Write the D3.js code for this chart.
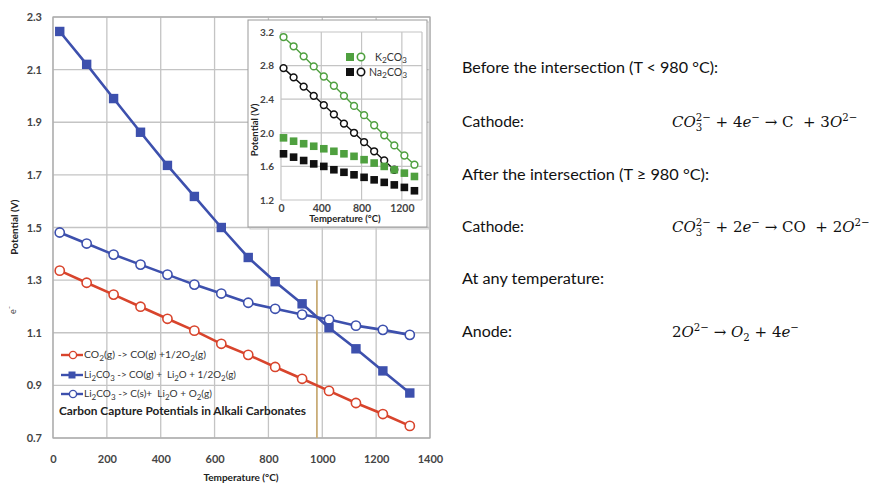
<!DOCTYPE html>
<html><head><meta charset="utf-8">
<script src="https://cdn.jsdelivr.net/npm/d3@7"></script>
<style>body{margin:0;background:#fff} text{white-space:pre}</style>
</head><body>
<svg id="c" width="869" height="484"></svg>
<script>
// ---------- data ----------
const temps = [25,125,225,325,425,525,625,725,825,925,1025,1125,1225,1325];
const co2ToCO     = [1.336,1.290,1.245,1.199,1.153,1.108,1.058,1.016,0.970,0.925,0.879,0.833,0.791,0.746];
const li2co3ToCO  = [2.245,2.120,1.990,1.862,1.736,1.618,1.500,1.386,1.294,1.210,1.119,1.039,0.955,0.871];
const li2co3ToC   = [1.481,1.439,1.397,1.359,1.321,1.283,1.249,1.214,1.191,1.169,1.150,1.127,1.111,1.092];
const intersectionT = 980;
const yTicks = [0.7,0.9,1.1,1.3,1.5,1.7,1.9,2.1,2.3];
const xTicks = [0,200,400,600,800,1000,1200,1400];

const insetTemps   = [25,125,225,325,425,525,625,725,825,925,1025,1125,1225,1325];
const k2co3Open    = [3.14,3.03,2.91,2.79,2.67,2.56,2.44,2.32,2.21,2.09,1.97,1.85,1.73,1.62];
const na2co3Open   = [2.77,2.66,2.55,2.44,2.33,2.22,2.11,2.00,1.89,1.78,1.67,1.56];
const k2co3Filled  = [1.94,1.90,1.87,1.84,1.81,1.78,1.75,1.72,1.68,1.64,1.60,1.56,1.52,1.48];
const na2co3Filled = [1.75,1.71,1.67,1.63,1.60,1.56,1.53,1.50,1.47,1.44,1.41,1.38,1.35,1.31];
const insetYTicks = [1.2,1.6,2.0,2.4,2.8,3.2];
const insetXTicks = [0,400,800,1200];

const BLUE="#3d50ad", RED="#d8442c", GREEN="#4fa03f", BLACK="#111", GRID="#c4c4c4";

const svg = d3.select("#c");
const F = "Lato, 'Open Sans', sans-serif";

// ---------- main chart ----------
const x = d3.scaleLinear().domain([0,1400]).range([53,430]);
const y = d3.scaleLinear().domain([0.7,2.3]).range([438,17]);
const g = svg.append("g");

g.selectAll(".hg").data(yTicks).join("line")
  .attr("x1",x(0)).attr("x2",x(1400)).attr("y1",d=>y(d)).attr("y2",d=>y(d))
  .attr("stroke",GRID).attr("stroke-width",1.3);
g.selectAll(".vg").data(xTicks).join("line")
  .attr("y1",y(0.7)).attr("y2",y(2.3)).attr("x1",d=>x(d)).attr("x2",d=>x(d))
  .attr("stroke",GRID).attr("stroke-width",1.3);
g.append("rect").attr("x",x(0)).attr("y",y(2.3)).attr("width",x(1400)-x(0)).attr("height",y(0.7)-y(2.3))
  .attr("fill","none").attr("stroke","#aaa").attr("stroke-width",1.2);

const ya = g.append("g").attr("transform",`translate(${x(0)-8},0)`)
  .call(d3.axisLeft(y).tickValues(yTicks).tickFormat(d3.format(".1f")).tickSize(0));
ya.select(".domain").remove();
ya.selectAll("text").attr("font-family",F).attr("font-size",11).attr("font-weight","bold").attr("fill","#444");
const xa = g.append("g").attr("transform",`translate(0,${y(0.7)+14})`)
  .call(d3.axisBottom(x).tickValues(xTicks).tickFormat(d3.format("d")).tickSize(0));
xa.select(".domain").remove();
xa.selectAll("text").attr("font-family",F).attr("font-size",11).attr("font-weight","bold").attr("fill","#444");

g.append("text").attr("x",241).attr("y",481).attr("text-anchor","middle")
  .attr("font-family",F).attr("font-size",10).attr("font-weight","bold").attr("fill","#222").text("Temperature (°C)");
g.append("text").attr("transform","translate(18,227) rotate(-90)").attr("text-anchor","middle")
  .attr("font-family",F).attr("font-size",10).attr("font-weight","bold").attr("fill","#222").text("Potential (V)");
g.append("text").attr("transform","translate(16,310) rotate(-90)").attr("text-anchor","middle")
  .attr("font-family",F).attr("font-size",9).attr("fill","#444").text("e⁻");

// intersection line
g.append("line").attr("x1",x(intersectionT)).attr("x2",x(intersectionT)).attr("y1",y(1.3)).attr("y2",y(0.7))
  .attr("stroke","#c9ad78").attr("stroke-width",1.8);

const line = d3.line().x(d=>x(d[0])).y(d=>y(d[1]));
function series(vals, color, marker){
  const pts = temps.map((t,i)=>[t,vals[i]]);
  g.append("path").attr("d",line(pts)).attr("fill","none").attr("stroke",color).attr("stroke-width",2.6);
  if(marker==="sq"){
    g.selectAll(null).data(pts).join("rect").attr("x",d=>x(d[0])-4.7).attr("y",d=>y(d[1])-4.7)
      .attr("width",9.4).attr("height",9.4).attr("fill",color);
  } else {
    g.selectAll(null).data(pts).join("circle").attr("cx",d=>x(d[0])).attr("cy",d=>y(d[1])).attr("r",4.6)
      .attr("fill","#fff").attr("stroke",color).attr("stroke-width",1.6);
  }
}
series(co2ToCO,RED,"c");
series(li2co3ToC,BLUE,"c");
series(li2co3ToCO,BLUE,"sq");

// chemical formula with subscripts; arrays mark subscript pieces
function chem(sel, parts){
  let shift = 0;
  parts.forEach(p=>{
    if(Array.isArray(p)){
      sel.append("tspan").attr("dy",2.5-shift).attr("font-size","0.8em").text(p[0]);
      shift = 2.5;
    } else {
      sel.append("tspan").attr("dy",-shift).text(p);
      shift = 0;
    }
  });
}
const legend = [
  {c:RED, m:"c", parts:["CO",["2"],"(g) -> CO(g) +1/2O",["2"],"(g)"], w:122, y:355},
  {c:BLUE, m:"sq", parts:["Li",["2"],"CO",["3"]," -> CO(g) +  Li",["2"],"O + 1/2O",["2"],"(g)"], w:152, y:375},
  {c:BLUE, m:"c", parts:["Li",["2"],"CO",["3"]," -> C(s)+  Li",["2"],"O + O",["2"],"(g)"], w:128, y:394}
];
legend.forEach(L=>{
  g.append("line").attr("x1",61).attr("x2",83).attr("y1",L.y).attr("y2",L.y).attr("stroke",L.c).attr("stroke-width",2.4);
  if(L.m==="sq") g.append("rect").attr("x",72-3.5).attr("y",L.y-3.5).attr("width",7).attr("height",7).attr("fill",L.c);
  else g.append("circle").attr("cx",73).attr("cy",L.y).attr("r",3.6).attr("fill","#fff").attr("stroke",L.c).attr("stroke-width",1.4);
  const t = g.append("text").attr("x",84).attr("y",L.y+3.3).attr("font-family",F).attr("font-size",9.5).attr("fill","#333")
    .attr("textLength",L.w).attr("lengthAdjust","spacingAndGlyphs");
  chem(t,L.parts);
});
g.append("text").attr("x",59).attr("y",415).attr("font-family",F).attr("font-size",11.5).attr("font-weight","bold").attr("fill","#222")
  .attr("textLength",247).attr("lengthAdjust","spacingAndGlyphs").text("Carbon Capture Potentials in Alkali Carbonates");

// ---------- inset ----------
const ix = d3.scaleLinear().domain([0,1400]).range([281,422]);
const iy = d3.scaleLinear().domain([1.2,3.2]).range([200,32]);
const ig = svg.append("g");
ig.append("rect").attr("x",250).attr("y",22).attr("width",179).attr("height",207).attr("fill","none").attr("stroke","#ccc").attr("stroke-width",1);
ig.append("rect").attr("x",248).attr("y",20).attr("width",179).attr("height",207).attr("fill","#fff").attr("stroke","#999").attr("stroke-width",1);
ig.selectAll(null).data(insetYTicks).join("line").attr("x1",ix(0)).attr("x2",ix(1400)).attr("y1",d=>iy(d)).attr("y2",d=>iy(d))
  .attr("stroke",GRID).attr("stroke-width",1.2);
ig.selectAll(null).data(insetXTicks.concat([1400])).join("line").attr("y1",iy(1.2)).attr("y2",iy(3.2)).attr("x1",d=>ix(d)).attr("x2",d=>ix(d))
  .attr("stroke",GRID).attr("stroke-width",1.2);
const iya = ig.append("g").attr("transform",`translate(${ix(0)-4},0)`)
  .call(d3.axisLeft(iy).tickValues(insetYTicks).tickFormat(d3.format(".1f")).tickSize(0));
iya.select(".domain").remove();
iya.selectAll("text").attr("font-family",F).attr("font-size",10).attr("font-weight","bold").attr("fill","#444");
const ixa = ig.append("g").attr("transform",`translate(0,${iy(1.2)+2})`)
  .call(d3.axisBottom(ix).tickValues(insetXTicks).tickFormat(d3.format("d")).tickSize(0));
ixa.select(".domain").remove();
ixa.selectAll("text").attr("font-family",F).attr("font-size",10.5).attr("font-weight","bold").attr("fill","#444");
ig.append("text").attr("x",345).attr("y",222).attr("text-anchor","middle").attr("font-family",F).attr("font-size",9.5)
  .attr("font-weight","bold").attr("fill","#222").text("Temperature (°C)");
ig.append("text").attr("transform","translate(258,130) rotate(-90)").attr("text-anchor","middle").attr("font-family",F)
  .attr("font-size",9.5).attr("font-weight","bold").attr("fill","#222").text("Potential (V)");

const il = d3.line().x(d=>ix(d[0])).y(d=>iy(d[1]));
function iSquares(vals,color){
  ig.selectAll(null).data(vals.map((v,i)=>[insetTemps[i],v])).join("rect")
    .attr("x",d=>ix(d[0])-3.8).attr("y",d=>iy(d[1])-3.8).attr("width",7.6).attr("height",7.6).attr("fill",color);
}
function iCircles(vals,color){
  const pts = vals.map((v,i)=>[insetTemps[i],v]);
  ig.append("path").attr("d",il(pts)).attr("fill","none").attr("stroke",color).attr("stroke-width",1.4);
  ig.selectAll(null).data(pts).join("circle").attr("cx",d=>ix(d[0])).attr("cy",d=>iy(d[1])).attr("r",3.4)
    .attr("fill","#fff").attr("stroke",color).attr("stroke-width",1.5);
}
iCircles(na2co3Open,BLACK);
iCircles(k2co3Open,GREEN);
iSquares(na2co3Filled,BLACK);
iSquares(k2co3Filled,GREEN);

[{c:GREEN,lab:["K",["2"],"CO",["3"]],y:57},{c:BLACK,lab:["Na",["2"],"CO",["3"]],y:72}].forEach(L=>{
  ig.append("rect").attr("x",346).attr("y",L.y-4).attr("width",8).attr("height",8).attr("fill",L.c);
  ig.append("circle").attr("cx",361).attr("cy",L.y).attr("r",3.7).attr("fill","#fff").attr("stroke",L.c).attr("stroke-width",1.6);
  const t = ig.append("text").attr("x",L.c===GREEN?375:369).attr("y",L.y+3.5).attr("font-family",F).attr("font-size",10.5).attr("fill","#333");
  chem(t,L.lab);
});

// ---------- right text ----------
const rt = svg.append("g").attr("font-family","Lato, 'Open Sans', sans-serif").attr("font-size",15.5).attr("fill","#111");
const lines = [
  {t:"Before the intersection (T < 980 °C):", y:73, w:256},
  {t:"Cathode:", y:127, w:62},
  {t:"After the intersection (T ≥ 980 °C):", y:180, w:247},
  {t:"Cathode:", y:232, w:62},
  {t:"At any temperature:", y:284, w:142},
  {t:"Anode:", y:337, w:50}
];
lines.forEach(L=>rt.append("text").attr("x",462).attr("y",L.y).attr("textLength",L.w).attr("lengthAdjust","spacingAndGlyphs").text(L.t));

const eg = svg.append("g").attr("font-family","'DejaVu Serif', serif").attr("fill","#111");
function eq(x0, yb, parts, size){
  let cx = x0;
  parts.forEach(p=>{
    if(p.s!==undefined || p.b!==undefined){
      let w=0;
      if(p.s){ const t=eg.append("text").attr("x",cx).attr("y",yb-6.5).attr("font-size",size*0.68).text(p.s); w=Math.max(w,t.node().getComputedTextLength()); }
      if(p.b){ const t=eg.append("text").attr("x",cx).attr("y",yb+4).attr("font-size",size*0.68).text(p.b); w=Math.max(w,t.node().getComputedTextLength()); }
      cx += w;
    } else {
      const t = eg.append("text").attr("x",cx).attr("y",yb).attr("font-size",size).attr("font-style",p.i?"italic":"normal").text(p.t);
      cx += t.node().getComputedTextLength();
    }
  });
}
eq(672,127,[{t:"CO",i:1},{s:"2−",b:"3"},{t:" + 4"},{t:"e",i:1},{s:"−"},{t:" → C  + 3"},{t:"O",i:1},{s:"2−"}],15);
eq(672,232,[{t:"CO",i:1},{s:"2−",b:"3"},{t:" + 2"},{t:"e",i:1},{s:"−"},{t:" → CO  + 2"},{t:"O",i:1},{s:"2−"}],15);
eq(672,337,[{t:"2"},{t:"O",i:1},{s:"2−"},{t:" → "},{t:"O",i:1},{b:"2"},{t:" + 4"},{t:"e",i:1},{s:"−"}],15);
</script>
</body></html>
